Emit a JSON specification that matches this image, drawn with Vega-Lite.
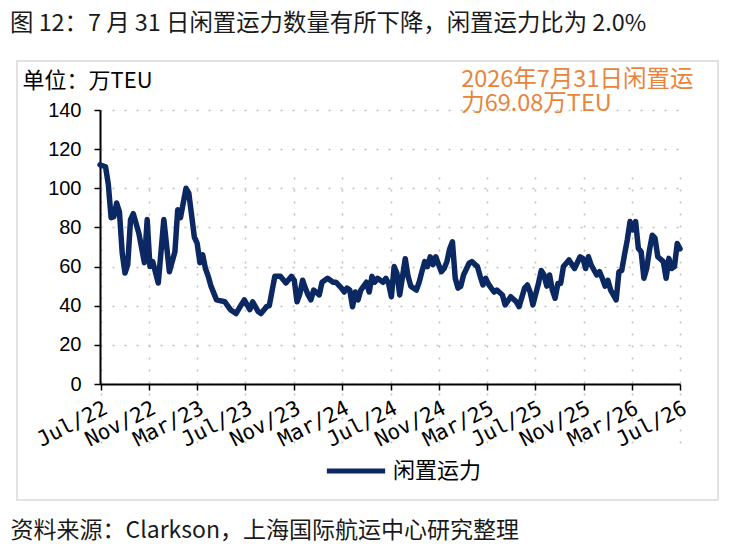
{
  "$schema": "https://vega.github.io/schema/vega-lite/v6.json",
  "width": 701,
  "height": 439,
  "autosize": {"type": "none"},
  "padding": {"left": 17, "top": 61, "right": 16, "bottom": 47},
  "background": "white",
  "title": {
    "text": "图 12：7 月 31 日闲置运力数量有所下降，闲置运力比为 2.0%",
    "anchor": "start",
    "frame": "group",
    "dx": -7,
    "dy": 24,
    "offset": 31,
    "baseline": "alphabetic",
    "font": "Noto Sans CJK SC",
    "fontSize": 23.4,
    "fontWeight": "normal",
    "color": "#1a1a1a"
  },
  "config": {
    "font": "Noto Sans CJK SC",
    "view": {"stroke": "#D9D9D9", "strokeWidth": 1.5}
  },
  "layer": [
    {
      "data": {
        "values": [
          {"d": "2022-07-29", "v": 112}, {"d": "2022-08-12", "v": 111}, {"d": "2022-08-19", "v": 102},
          {"d": "2022-08-26", "v": 85}, {"d": "2022-09-02", "v": 85.5}, {"d": "2022-09-09", "v": 92.5},
          {"d": "2022-09-16", "v": 88}, {"d": "2022-09-23", "v": 67}, {"d": "2022-09-30", "v": 56.7},
          {"d": "2022-10-07", "v": 61}, {"d": "2022-10-14", "v": 84}, {"d": "2022-10-21", "v": 87},
          {"d": "2022-11-04", "v": 77}, {"d": "2022-11-18", "v": 62}, {"d": "2022-11-25", "v": 84},
          {"d": "2022-12-02", "v": 60}, {"d": "2022-12-09", "v": 62.5}, {"d": "2022-12-23", "v": 51.6},
          {"d": "2023-01-06", "v": 84}, {"d": "2023-01-20", "v": 57.4}, {"d": "2023-02-03", "v": 67.6},
          {"d": "2023-02-10", "v": 89}, {"d": "2023-02-17", "v": 85}, {"d": "2023-03-03", "v": 100},
          {"d": "2023-03-10", "v": 97.5}, {"d": "2023-03-24", "v": 75}, {"d": "2023-03-31", "v": 72},
          {"d": "2023-04-07", "v": 62}, {"d": "2023-04-14", "v": 66}, {"d": "2023-04-21", "v": 59},
          {"d": "2023-04-28", "v": 55}, {"d": "2023-05-05", "v": 50}, {"d": "2023-05-19", "v": 43},
          {"d": "2023-06-09", "v": 42}, {"d": "2023-06-23", "v": 38}, {"d": "2023-07-07", "v": 36},
          {"d": "2023-07-28", "v": 43}, {"d": "2023-08-11", "v": 38}, {"d": "2023-08-18", "v": 42},
          {"d": "2023-09-01", "v": 37}, {"d": "2023-09-08", "v": 36}, {"d": "2023-09-22", "v": 39.5},
          {"d": "2023-09-29", "v": 40}, {"d": "2023-10-13", "v": 55}, {"d": "2023-10-27", "v": 55},
          {"d": "2023-11-10", "v": 51.6}, {"d": "2023-11-24", "v": 55}, {"d": "2023-12-01", "v": 53},
          {"d": "2023-12-08", "v": 42}, {"d": "2023-12-15", "v": 46}, {"d": "2023-12-22", "v": 53},
          {"d": "2023-12-29", "v": 49}, {"d": "2024-01-05", "v": 45.5}, {"d": "2024-01-12", "v": 43},
          {"d": "2024-01-19", "v": 48}, {"d": "2024-02-02", "v": 45.5}, {"d": "2024-02-09", "v": 52},
          {"d": "2024-02-23", "v": 54}, {"d": "2024-03-08", "v": 52}, {"d": "2024-03-15", "v": 52},
          {"d": "2024-03-29", "v": 49}, {"d": "2024-04-05", "v": 47}, {"d": "2024-04-12", "v": 49},
          {"d": "2024-04-19", "v": 48}, {"d": "2024-04-26", "v": 39.5}, {"d": "2024-05-03", "v": 47},
          {"d": "2024-05-10", "v": 43}, {"d": "2024-05-17", "v": 48}, {"d": "2024-05-31", "v": 52},
          {"d": "2024-06-07", "v": 47}, {"d": "2024-06-14", "v": 55}, {"d": "2024-06-21", "v": 52},
          {"d": "2024-06-28", "v": 54}, {"d": "2024-07-12", "v": 52}, {"d": "2024-07-19", "v": 54},
          {"d": "2024-07-26", "v": 51.4}, {"d": "2024-08-02", "v": 44.6}, {"d": "2024-08-09", "v": 60},
          {"d": "2024-08-16", "v": 56.6}, {"d": "2024-08-23", "v": 45.5}, {"d": "2024-09-06", "v": 64},
          {"d": "2024-09-13", "v": 55}, {"d": "2024-09-20", "v": 50}, {"d": "2024-10-04", "v": 48},
          {"d": "2024-10-11", "v": 52}, {"d": "2024-10-18", "v": 57.4}, {"d": "2024-10-25", "v": 62.5},
          {"d": "2024-11-01", "v": 60}, {"d": "2024-11-08", "v": 65}, {"d": "2024-11-15", "v": 61},
          {"d": "2024-11-22", "v": 65}, {"d": "2024-11-29", "v": 61}, {"d": "2024-12-06", "v": 57.4},
          {"d": "2024-12-13", "v": 59}, {"d": "2024-12-20", "v": 62.5}, {"d": "2024-12-27", "v": 69},
          {"d": "2025-01-03", "v": 72.7}, {"d": "2025-01-10", "v": 54}, {"d": "2025-01-17", "v": 49},
          {"d": "2025-01-24", "v": 50}, {"d": "2025-01-31", "v": 55.7}, {"d": "2025-02-14", "v": 61.7},
          {"d": "2025-02-21", "v": 62.5}, {"d": "2025-03-07", "v": 60}, {"d": "2025-03-14", "v": 55},
          {"d": "2025-03-21", "v": 50.6}, {"d": "2025-03-28", "v": 54}, {"d": "2025-04-04", "v": 51},
          {"d": "2025-04-11", "v": 49}, {"d": "2025-04-18", "v": 47}, {"d": "2025-04-25", "v": 48},
          {"d": "2025-05-09", "v": 45.5}, {"d": "2025-05-16", "v": 40.4}, {"d": "2025-05-30", "v": 44.6},
          {"d": "2025-06-13", "v": 42}, {"d": "2025-06-20", "v": 39.5}, {"d": "2025-07-04", "v": 49},
          {"d": "2025-07-11", "v": 50.6}, {"d": "2025-07-18", "v": 47}, {"d": "2025-07-25", "v": 40.4},
          {"d": "2025-08-08", "v": 51.4}, {"d": "2025-08-15", "v": 58}, {"d": "2025-08-22", "v": 55.7},
          {"d": "2025-08-29", "v": 50}, {"d": "2025-09-05", "v": 55.7}, {"d": "2025-09-12", "v": 48},
          {"d": "2025-09-19", "v": 43.8}, {"d": "2025-09-26", "v": 51.4}, {"d": "2025-10-03", "v": 51.4},
          {"d": "2025-10-10", "v": 60}, {"d": "2025-10-24", "v": 63.4}, {"d": "2025-11-07", "v": 59},
          {"d": "2025-11-21", "v": 65}, {"d": "2025-11-28", "v": 64.2}, {"d": "2025-12-05", "v": 59},
          {"d": "2025-12-12", "v": 65}, {"d": "2025-12-19", "v": 60.8}, {"d": "2026-01-02", "v": 55.7},
          {"d": "2026-01-09", "v": 57.4}, {"d": "2026-01-16", "v": 54}, {"d": "2026-01-23", "v": 50},
          {"d": "2026-01-30", "v": 53}, {"d": "2026-02-06", "v": 48}, {"d": "2026-02-20", "v": 43},
          {"d": "2026-02-27", "v": 57.4}, {"d": "2026-03-06", "v": 58}, {"d": "2026-03-13", "v": 66},
          {"d": "2026-03-20", "v": 73.6}, {"d": "2026-03-27", "v": 83}, {"d": "2026-04-03", "v": 78.7},
          {"d": "2026-04-10", "v": 83}, {"d": "2026-04-17", "v": 69.3}, {"d": "2026-04-24", "v": 67.6},
          {"d": "2026-05-01", "v": 54}, {"d": "2026-05-08", "v": 59}, {"d": "2026-05-15", "v": 68.5},
          {"d": "2026-05-22", "v": 76}, {"d": "2026-05-29", "v": 74.5}, {"d": "2026-06-05", "v": 65},
          {"d": "2026-06-19", "v": 62.5}, {"d": "2026-06-26", "v": 54}, {"d": "2026-07-03", "v": 64.2},
          {"d": "2026-07-10", "v": 59}, {"d": "2026-07-17", "v": 60}, {"d": "2026-07-24", "v": 71.8},
          {"d": "2026-07-31", "v": 69.08}
        ]
      },
      "mark": {"type": "line", "strokeWidth": 5.5, "strokeJoin": "round", "strokeCap": "round"},
      "encoding": {
        "x": {
          "field": "d",
          "type": "temporal",
          "scale": {
            "type": "utc",
            "domain": [
              {"year": 2022, "month": 7, "date": 29, "utc": true},
              {"year": 2026, "month": 7, "date": 31, "utc": true}
            ],
            "range": [83, 663]
          },
          "axis": {
            "values": [
              {"year": 2022, "month": 7, "date": 31, "utc": true},
              {"year": 2022, "month": 9, "date": 30, "utc": true},
              {"year": 2022, "month": 11, "date": 30, "utc": true},
              {"year": 2023, "month": 1, "date": 31, "utc": true},
              {"year": 2023, "month": 3, "date": 31, "utc": true},
              {"year": 2023, "month": 5, "date": 31, "utc": true},
              {"year": 2023, "month": 7, "date": 31, "utc": true},
              {"year": 2023, "month": 9, "date": 30, "utc": true},
              {"year": 2023, "month": 11, "date": 30, "utc": true},
              {"year": 2024, "month": 1, "date": 31, "utc": true},
              {"year": 2024, "month": 3, "date": 31, "utc": true},
              {"year": 2024, "month": 5, "date": 31, "utc": true},
              {"year": 2024, "month": 7, "date": 31, "utc": true},
              {"year": 2024, "month": 9, "date": 30, "utc": true},
              {"year": 2024, "month": 11, "date": 30, "utc": true},
              {"year": 2025, "month": 1, "date": 31, "utc": true},
              {"year": 2025, "month": 3, "date": 31, "utc": true},
              {"year": 2025, "month": 5, "date": 31, "utc": true},
              {"year": 2025, "month": 7, "date": 31, "utc": true},
              {"year": 2025, "month": 9, "date": 30, "utc": true},
              {"year": 2025, "month": 11, "date": 30, "utc": true},
              {"year": 2026, "month": 1, "date": 31, "utc": true},
              {"year": 2026, "month": 3, "date": 31, "utc": true},
              {"year": 2026, "month": 5, "date": 31, "utc": true},
              {"year": 2026, "month": 7, "date": 31, "utc": true}
            ],
            "offset": -116,
            "labelExpr": "indexof([6,10,2], utcmonth(datum.value)) >= 0 ? utcFormat(datum.value, '%b/%y') : ''",
            "labelAngle": -27,
            "labelAlign": "right",
            "labelBaseline": "top",
            "labelFont": "DejaVu Sans Mono",
            "labelFontSize": 21,
            "labelColor": "#000",
            "labelPadding": 7,
            "labelOverlap": false,
            "labelBound": false,
            "labelFlush": false,
            "tickSize": 6,
            "tickColor": "#000",
            "tickWidth": 1.5,
            "domainColor": "#000",
            "domainWidth": 2,
            "grid": true,
            "gridColor": "#BFBFBF",
            "gridWidth": 1.5,
            "gridDash": [2, 10],
            "gridOpacity": {"condition": {"test": "indexof([6,10,2], utcmonth(datum.value)) >= 0", "value": 1}, "value": 0},
            "title": "资料来源：Clarkson，上海国际航运中心研究整理",
            "titleX": -7,
            "titleY": 153,
            "titleAlign": "left",
            "titleBaseline": "alphabetic",
            "titleFont": "Noto Sans CJK SC",
            "titleFontSize": 23,
            "titleFontWeight": "normal",
            "titleColor": "#1a1a1a"
          }
        },
        "y": {
          "field": "v",
          "type": "quantitative",
          "scale": {"domain": [0, 140], "range": [323, 49], "nice": false},
          "axis": {
            "values": [0, 20, 40, 60, 80, 100, 120, 140],
            "offset": -83,
            "labelFont": "Liberation Sans",
            "labelFontSize": 20,
            "labelColor": "#000",
            "labelPadding": 13,
            "tickSize": 6,
            "tickColor": "#000",
            "tickWidth": 1.5,
            "domainColor": "#000",
            "domainWidth": 2,
            "grid": true,
            "gridColor": "#BFBFBF",
            "gridWidth": 1.5,
            "gridDash": [2, 10],
            "title": "单位：万TEU",
            "titleAngle": 0,
            "titleX": -78,
            "titleY": 26,
            "titleAlign": "left",
            "titleBaseline": "alphabetic",
            "titleFont": "Noto Sans CJK SC",
            "titleFontSize": 22,
            "titleFontWeight": "normal",
            "titleColor": "#000"
          }
        },
        "color": {
          "datum": "闲置运力",
          "type": "nominal",
          "scale": {"range": ["#0B2862"]},
          "legend": {
            "orient": "none",
            "legendX": 307,
            "legendY": 378,
            "title": null,
            "padding": 0,
            "symbolType": "stroke",
            "symbolSize": 3400,
            "symbolStrokeWidth": 5,
            "labelFont": "Noto Sans CJK SC",
            "labelFontSize": 22,
            "labelColor": "#000",
            "labelOffset": 5
          }
        }
      }
    },
    {
      "data": {"values": [{"note": "annotation"}]},
      "mark": {
        "type": "text",
        "align": "left",
        "baseline": "top",
        "font": "Noto Sans CJK SC",
        "fontSize": 23.5,
        "lineHeight": 24,
        "color": "#E8843C"
      },
      "encoding": {
        "x": {"datum": {"year": 2025, "month": 1, "date": 25, "utc": true}, "type": "temporal"},
        "y": {"datum": 161.5, "type": "quantitative"},
        "text": {"value": ["2026年7月31日闲置运", "力69.08万TEU"]}
      }
    }
  ]
}
